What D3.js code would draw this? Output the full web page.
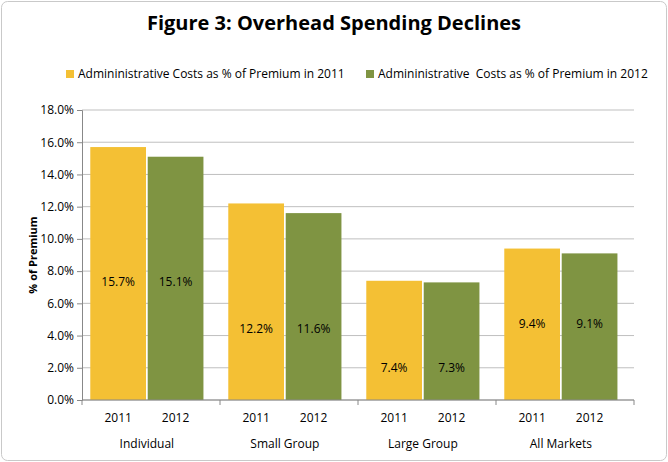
<!DOCTYPE html>
<html lang="en">
<head>
<meta charset="UTF-8">
<script src="https://d3js.org/d3.v7.min.js"></script>
<style>
  body { margin: 0; background: #fff; font-family: "Open Sans", Arial, sans-serif; }
</style>
</head>
<body>
<svg id="chart"></svg>
<script>
const categories = ["Individual", "Small Group", "Large Group", "All Markets"];
const years = ["2011", "2012"];
const values2011 = [15.7, 12.2, 7.4, 9.4];
const values2012 = [15.1, 11.6, 7.3, 9.1];
// where the value labels sit (in % units)
const labelAt = [7.3, 4.4, 2.0, 4.7];
const yTicks = [0, 2, 4, 6, 8, 10, 12, 14, 16, 18];
const seriesNames = ["Admininistrative Costs as % of Premium in 2011", "Admininistrative  Costs as % of Premium in 2012"];
const colors = ["#F4C034", "#7F9442"];

const width = 668, height = 462;
const margin = { top: 110, right: 34, bottom: 62, left: 82 };

const svg = d3.select("#chart").attr("width", width).attr("height", height);

svg.append("rect").attr("x", 1.5).attr("y", 1.5).attr("width", width - 3).attr("height", height - 3)
  .attr("rx", 6).attr("fill", "#fff").attr("stroke", "#c9c9c9");

svg.append("text").attr("x", width / 2).attr("y", 30).attr("text-anchor", "middle")
  .attr("font-size", 20).attr("font-weight", "bold").text("Figure 3: Overhead Spending Declines");

const x0 = d3.scaleBand().domain(categories).range([margin.left, width - margin.right]);
const x1 = d3.scaleBand().domain(years).range([x0.bandwidth() * 0.06, x0.bandwidth() * 0.88]).paddingInner(0.03);
const y = d3.scaleLinear().domain([0, 18]).range([height - margin.bottom, margin.top]);

// gridlines
svg.append("g").selectAll("line").data(yTicks).join("line")
  .attr("x1", margin.left).attr("x2", width - margin.right)
  .attr("y1", d => y(d)).attr("y2", d => y(d))
  .attr("stroke", "#bfbfbf").attr("stroke-width", 1);

// y axis
const yAxis = svg.append("g").attr("transform", `translate(${margin.left},0)`)
  .call(d3.axisLeft(y).tickValues(yTicks).tickFormat(d => d.toFixed(1) + "%").tickSize(5));
yAxis.select(".domain").attr("stroke", "#888");
yAxis.selectAll("line").attr("stroke", "#888");
yAxis.selectAll("text").attr("font-size", 12).attr("font-family", "Open Sans, Arial, sans-serif").attr("fill", "#000");

svg.append("text").attr("transform", "rotate(-90)").attr("x", -(y(9))).attr("y", 37)
  .attr("text-anchor", "middle").attr("font-size", 11).attr("font-weight", "bold").text("% of Premium");

const rows = [];
categories.forEach((c, i) => {
  rows.push({ cat: c, year: "2011", v: values2011[i], lab: labelAt[i], s: 0 });
  rows.push({ cat: c, year: "2012", v: values2012[i], lab: labelAt[i], s: 1 });
});

svg.append("g").selectAll("rect").data(rows).join("rect")
  .attr("x", d => x0(d.cat) + x1(d.year)).attr("width", x1.bandwidth())
  .attr("y", d => y(d.v)).attr("height", d => y(0) - y(d.v))
  .attr("fill", d => colors[d.s]);

svg.append("g").selectAll("text").data(rows).join("text")
  .attr("x", d => x0(d.cat) + x1(d.year) + x1.bandwidth() / 2).attr("y", d => y(d.lab) + 4)
  .attr("text-anchor", "middle").attr("font-size", 12).text(d => d.v.toFixed(1) + "%");

// x axis baseline
svg.append("line").attr("x1", margin.left).attr("x2", width - margin.right)
  .attr("y1", y(0)).attr("y2", y(0)).attr("stroke", "#888");
svg.append("g").selectAll("line").data(categories.concat(["end"])).join("line")
  .attr("x1", (d, i) => margin.left + i * x0.bandwidth()).attr("x2", (d, i) => margin.left + i * x0.bandwidth())
  .attr("y1", y(0)).attr("y2", y(0) + 5).attr("stroke", "#888");

svg.append("g").selectAll("text").data(rows).join("text")
  .attr("x", d => x0(d.cat) + x1(d.year) + x1.bandwidth() / 2).attr("y", y(0) + 22)
  .attr("text-anchor", "middle").attr("font-size", 12).text(d => d.year);

svg.append("g").selectAll("text").data(categories).join("text")
  .attr("x", d => x0(d) + x0.bandwidth() * 0.47).attr("y", y(0) + 48)
  .attr("text-anchor", "middle").attr("font-size", 12).text(d => d);

// legend
const legend = svg.append("g");
const legX = [66, 366];
seriesNames.forEach((n, i) => {
  legend.append("rect").attr("x", legX[i]).attr("y", 70).attr("width", 8).attr("height", 8).attr("fill", colors[i]);
  legend.append("text").attr("x", legX[i] + 12).attr("y", 78).attr("font-size", 12)
    .style("white-space", "pre").text(n);
});
</script>
</body>
</html>
